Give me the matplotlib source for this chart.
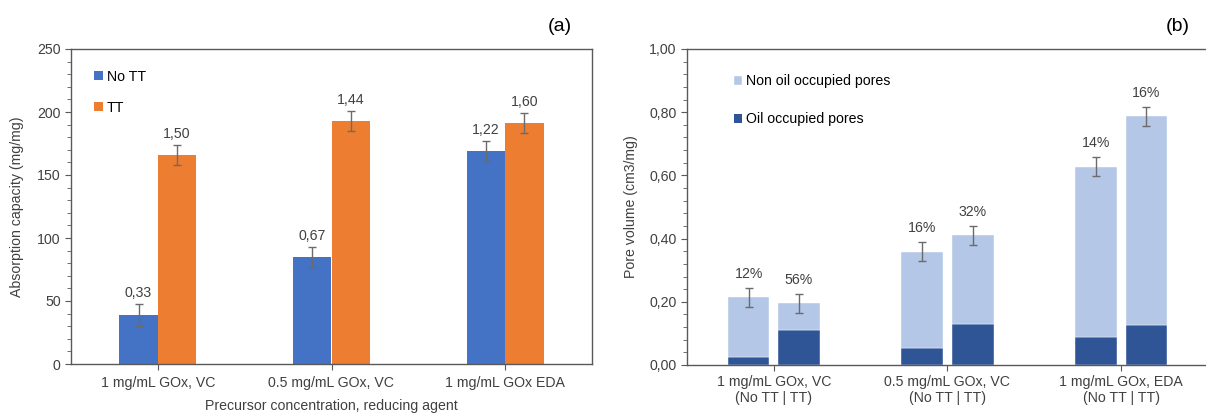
import matplotlib.pyplot as plt
import numpy as np
from matplotlib.ticker import MultipleLocator, FuncFormatter

plt.rcParams['font.family'] = ['Liberation Sans', 'DejaVu Sans']
plt.rcParams['font.size'] = 10.2

# (a) absorption capacity
groups_a = ['1 mg/mL GOx, VC', '0.5 mg/mL GOx, VC', '1 mg/mL GOx EDA']
no_tt = [39, 85, 169]
tt = [166, 193, 191]
no_tt_err = [8.5, 8, 8]
tt_err = [8, 8, 8]
no_tt_lab = ['0,33', '0,67', '1,22']
tt_lab = ['1,50', '1,44', '1,60']

# (b) pore volume
groups_b = ['1 mg/mL GOx, VC\n(No TT | TT)', '0.5 mg/mL GOx, VC\n(No TT | TT)', '1 mg/mL GOx, EDA\n(No TT | TT)']
total_notts = [0.215, 0.358, 0.628]
total_tts = [0.196, 0.410, 0.787]
oil_notts = [0.025, 0.055, 0.088]
oil_tts = [0.111, 0.130, 0.128]
err_b = [0.03, 0.03, 0.03]
pct_notts = ['12%', '16%', '14%']
pct_tts = ['56%', '32%', '16%']

spine_c = '#595959'
err_c = '#6b6b6b'

fig = plt.figure(figsize=(12.06, 4.17), dpi=100)
ax1 = fig.add_axes([71/1206, 1-364/417, 521/1206, 315/417])
ax2 = fig.add_axes([687/1206, 1-365/417, 521/1206, 316/417])

x = np.arange(3)
w = 0.222
ax1.bar(x - w/2, no_tt, w, color='#4472C4', label='No TT',
        yerr=no_tt_err, error_kw=dict(ecolor=err_c, capsize=3, elinewidth=1))
ax1.bar(x + w/2, tt, w, color='#ED7D31', label='TT',
        yerr=tt_err, error_kw=dict(ecolor=err_c, capsize=3, elinewidth=1))
for i in range(3):
    ax1.annotate(no_tt_lab[i], (x[i] - w/2, no_tt[i] + no_tt_err[i]), xytext=(0, 3),
                 textcoords='offset points', ha='center', va='bottom', color='#404040')
    ax1.annotate(tt_lab[i], (x[i] + w/2, tt[i] + tt_err[i]), xytext=(0, 3),
                 textcoords='offset points', ha='center', va='bottom', color='#404040')
ax1.set_xlim(-0.5, 2.5)
ax1.set_ylim(0, 250)
ax1.yaxis.set_major_locator(MultipleLocator(50))
ax1.yaxis.set_minor_locator(MultipleLocator(10))
ax1.set_xticks(x)
ax1.set_xticklabels(groups_a)
ax1.tick_params(axis='x', pad=5)
ax1.set_ylabel('Absorption capacity (mg/mg)', color='#404040', labelpad=9)
ax1.set_xlabel('Precursor concentration, reducing agent', color='#404040', labelpad=6)
ax1.legend(loc='upper left', bbox_to_anchor=(0.02, 0.975), frameon=False,
           handlelength=0.6, handleheight=0.6, handletextpad=0.3, labelspacing=1.2)
ax1.text(1.0 - 32/521, 1.07, '(a)', transform=ax1.transAxes, ha='center', va='center', fontsize=14)

wb = 0.24
off = 0.145
ax2.bar(x - off, oil_notts, wb, color='#2F5597', edgecolor='white', linewidth=0.3)
ax2.bar(x + off, oil_tts, wb, color='#2F5597', edgecolor='white', linewidth=0.3)
non_notts = [t - o for t, o in zip(total_notts, oil_notts)]
non_tts = [t - o for t, o in zip(total_tts, oil_tts)]
ax2.bar(x - off, non_notts, wb, bottom=oil_notts, color='#B4C7E7', edgecolor='white', linewidth=0.3,
        yerr=err_b, error_kw=dict(ecolor=err_c, capsize=3, elinewidth=1), label='Non oil occupied pores')
ax2.bar(x + off, non_tts, wb, bottom=oil_tts, color='#B4C7E7', edgecolor='white', linewidth=0.3,
        yerr=err_b, error_kw=dict(ecolor=err_c, capsize=3, elinewidth=1))
ax2.bar([0], [0], color='#2F5597', label='Oil occupied pores')
for i in range(3):
    ax2.annotate(pct_notts[i], (x[i] - off, total_notts[i] + err_b[i]), xytext=(0, 5),
                 textcoords='offset points', ha='center', va='bottom', color='#404040')
    ax2.annotate(pct_tts[i], (x[i] + off, total_tts[i] + err_b[i]), xytext=(0, 5),
                 textcoords='offset points', ha='center', va='bottom', color='#404040')
ax2.set_xlim(-0.5, 2.5)
ax2.set_ylim(0, 1.0)
ax2.yaxis.set_major_locator(MultipleLocator(0.2))
ax2.yaxis.set_minor_locator(MultipleLocator(0.04))
ax2.yaxis.set_major_formatter(FuncFormatter(lambda v, p: f'{v:.2f}'.replace('.', ',')))
ax2.set_xticks(x)
ax2.set_xticklabels(groups_b, linespacing=1.25)
ax2.tick_params(axis='x', length=0, pad=3)
ax2.set_ylabel('Pore volume (cm3/mg)', color='#404040', labelpad=8)
ax2.legend(loc='upper left', bbox_to_anchor=(0.065, 0.96), frameon=False,
           handlelength=0.6, handleheight=0.6, handletextpad=0.3, labelspacing=1.7)
ax2.text(1.0 - 30/521, 1.07, '(b)', transform=ax2.transAxes, ha='center', va='center', fontsize=14)

for ax in (ax1, ax2):
    for s in ax.spines.values():
        s.set_color(spine_c)
        s.set_linewidth(1)
    ax.tick_params(which='both', direction='out', color=spine_c, labelcolor='#404040')
    ax.tick_params(which='major', length=4)
    ax.tick_params(which='minor', length=3)

fig.savefig('out.png', dpi=100)
